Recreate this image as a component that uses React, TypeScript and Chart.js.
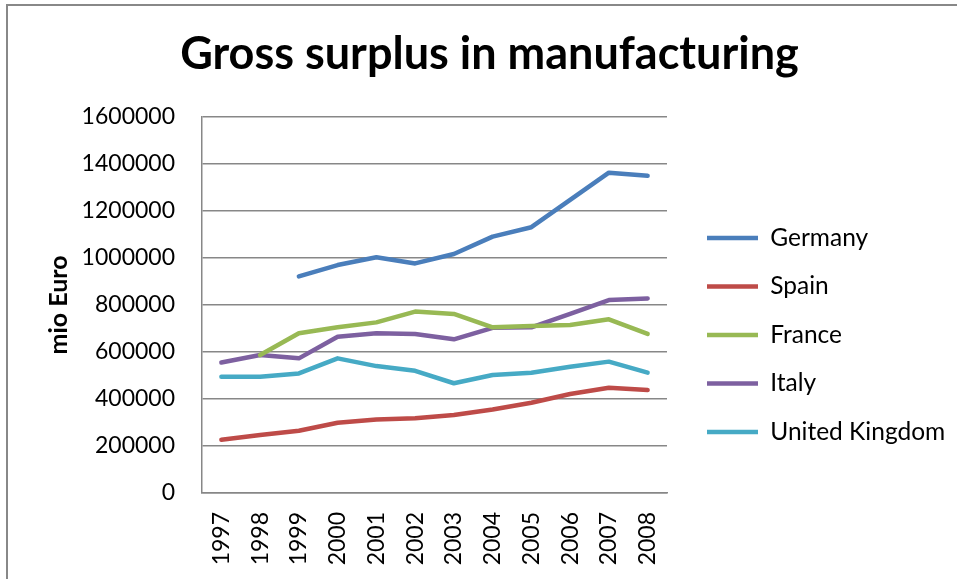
import React, { useEffect, useRef } from "react";
import { Chart, registerables } from "chart.js";

Chart.register(...registerables);

const TITLE = "Gross surplus in manufacturing";
const Y_TITLE = "mio Euro";

const years = ["1997", "1998", "1999", "2000", "2001", "2002", "2003", "2004", "2005", "2006", "2007", "2008"];

const seriesNames = ["Germany", "Spain", "France", "Italy", "United Kingdom"];

const germany = [null, null, 922000, 970000, 1003000, 977000, 1017000, 1091000, 1131000, 1247000, 1363000, 1350000];
const spain = [227000, 247000, 265000, 299000, 313000, 318000, 332000, 355000, 384000, 421000, 448000, 438000];
const france = [null, 587000, 680000, 705000, 726000, 772000, 762000, 705000, 711000, 715000, 739000, 677000];
const italy = [555000, 587000, 573000, 665000, 680000, 677000, 654000, 703000, 705000, 762000, 821000, 828000];
const uk = [495000, 495000, 509000, 573000, 540000, 520000, 467000, 502000, 512000, 537000, 559000, 512000];

const yMin = 0;
const yMax = 1600000;
const yStep = 200000;

const colors = ["#4A7EBB", "#BE4B48", "#98B954", "#7D60A0", "#46AAC5"];
const GRID = "#878787";

// layout constants
const W = 957;
const H = 579;
const PAD_LEFT = 30;
const PLOT_RIGHT = 667;
const LEGEND_FONT = 24.5;
const LEGEND_PAD = 24;
const LEGEND_BOX = 51;
const LEGEND_X = 707;
const LEGEND_DY = 45.5;
const TITLE_CENTER = 489.5;

export default function App() {
  const ref = useRef<HTMLCanvasElement | null>(null);

  useEffect(() => {
    document.body.style.margin = "0";
    let chart: Chart | null = null;
    let cancelled = false;
    const values = [germany, spain, france, italy, uk];

    const make = () => {
      if (cancelled || !ref.current) return;
      Chart.defaults.font.family = "Lato";
      Chart.defaults.color = "#000";

      const mctx = document.createElement("canvas").getContext("2d")!;
      mctx.font = `${LEGEND_FONT}px Lato`;
      const maxText = Math.max(...seriesNames.map((n) => mctx.measureText(n).width));
      const legendW = LEGEND_PAD + LEGEND_BOX + LEGEND_FONT / 2 + maxText + 10;
      const padRight = W - PLOT_RIGHT - legendW;
      const legendDX = LEGEND_X - (PLOT_RIGHT + LEGEND_PAD);
      const titleDX = TITLE_CENTER - (PAD_LEFT + W - padRight) / 2;

      const shiftPlugin = {
        id: "shiftBoxes",
        afterLayout(c: any) {
          const lg = c.legend;
          if (lg) {
            lg.left += legendDX;
            lg.right += legendDX;
            lg.top += LEGEND_DY;
            lg.bottom += LEGEND_DY;
          }
          const tb = c.titleBlock;
          if (tb) {
            tb.left += titleDX;
            tb.right += titleDX;
          }
        },
      };

      chart = new Chart(ref.current, {
        type: "line",
        data: {
          labels: years,
          datasets: seriesNames.map((name, i) => ({
            label: name,
            data: values[i] as any,
            borderColor: colors[i],
            backgroundColor: colors[i],
            borderWidth: 4.5,
            pointRadius: 0,
            pointHoverRadius: 0,
            tension: 0,
            fill: false,
            spanGaps: false,
            borderCapStyle: "round",
            borderJoinStyle: "round",
          })),
        },
        options: {
          responsive: false,
          animation: false,
          events: [],
          layout: { padding: { left: PAD_LEFT, right: padRight, top: 0, bottom: 0 } },
          plugins: {
            title: {
              display: true,
              text: TITLE,
              color: "#000",
              font: { family: "Lato", size: 45, weight: "bold" },
              padding: { top: 27.6, bottom: 35.4 },
            },
            legend: {
              position: "right",
              maxWidth: 400,
              labels: {
                usePointStyle: true,
                pointStyle: "line",
                pointStyleWidth: LEGEND_BOX,
                padding: LEGEND_PAD,
                color: "#000",
                font: { family: "Lato", size: LEGEND_FONT },
              },
            },
            tooltip: { enabled: false },
          },
          scales: {
            x: {
              type: "category",
              offset: true,
              grid: { display: false, drawTicks: false },
              border: { display: true, color: GRID, width: 1.5 },
              ticks: {
                minRotation: 90,
                maxRotation: 90,
                autoSkip: false,
                padding: 19,
                color: "#000",
                font: { family: "Lato", size: 23 },
              },
              afterFit: (s: any) => {
                s.height = 86;
              },
            },
            y: {
              min: yMin,
              max: yMax,
              ticks: {
                stepSize: yStep,
                padding: 27,
                color: "#000",
                font: { family: "Lato", size: 23 },
                callback: (v: any) => String(v),
              },
              grid: { color: GRID, lineWidth: 1.5, drawTicks: false },
              border: { display: true, color: GRID, width: 1.5 },
              title: {
                display: true,
                text: Y_TITLE,
                color: "#000",
                font: { family: "Lato", size: 25, weight: "bold" },
                padding: { top: 14, bottom: 0 },
              },
              afterFit: (s: any) => {
                s.width = 202 - PAD_LEFT;
              },
            },
          },
        } as any,
        plugins: [shiftPlugin],
      });
    };

    const fonts = (document as any).fonts;
    if (fonts && fonts.load) {
      Promise.all([
        fonts.load("23px Lato"),
        fonts.load("bold 45px Lato"),
        fonts.load("bold 25px Lato"),
      ]).then(make, make);
    } else {
      make();
    }
    return () => {
      cancelled = true;
      if (chart) chart.destroy();
    };
  }, []);

  return (
    <div style={{ position: "relative", width: W, height: H, overflow: "hidden", background: "#fff" }}>
      <div
        style={{
          position: "absolute",
          left: 6,
          top: 4,
          width: 1200,
          height: 1200,
          border: "2px solid #888888",
        }}
      />
      <canvas ref={ref} width={W} height={H} style={{ position: "absolute", left: 0, top: 0, width: W, height: H }} />
    </div>
  );
}
